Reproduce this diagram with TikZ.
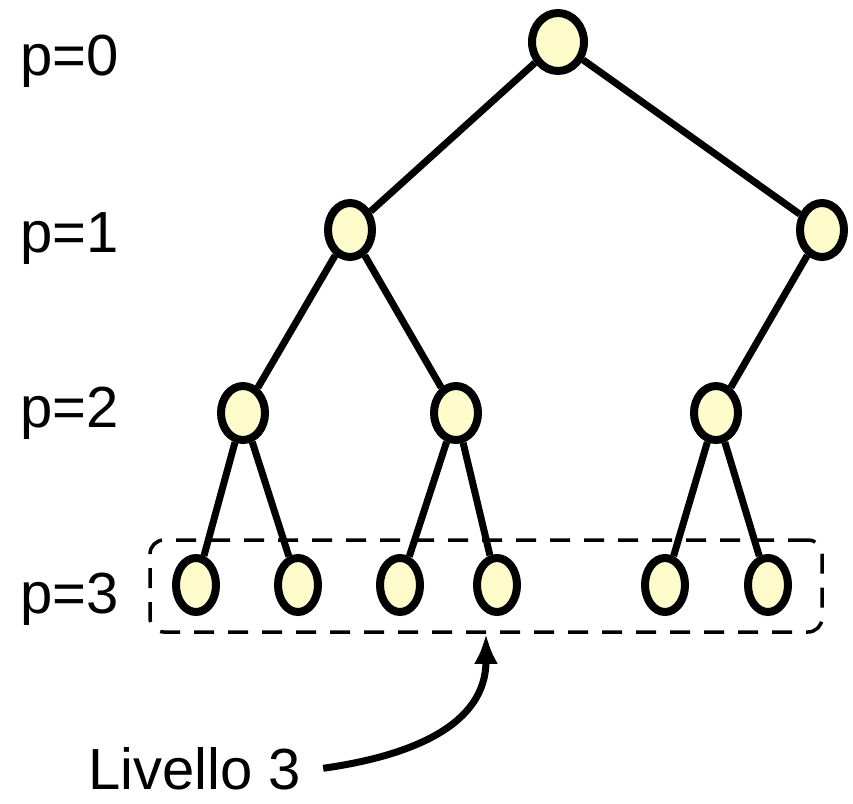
\documentclass[tikz,border=0pt]{standalone}
\usepackage{fontspec}
\setmainfont{Liberation Sans}
\usetikzlibrary{arrows,arrows.meta,shapes.geometric}

\begin{document}
\begin{tikzpicture}[x=1pt,y=-1pt,>=latex,
  nodo/.style={draw,ellipse,line width=8pt,fill=yellow!20,
               minimum width=44pt,minimum height=54pt,inner sep=0pt},
  foglia/.style={nodo,minimum width=40pt},
  ramo/.style={line width=7pt},
  etich/.style={anchor=base west,inner sep=0pt,
                font=\fontsize{58}{66}\selectfont}]
\useasboundingbox (0,0) rectangle (853,803);

% i nodi dell'albero
\node[nodo,minimum width=52pt,minimum height=58pt] (r) at (558,42) {};
\node[nodo] (a) at (350,230) {};
\node[nodo] (b) at (822,230) {};
\node[nodo] (aa) at (243,413) {};
\node[nodo] (ab) at (456,413) {};
\node[nodo] (ba) at (716,413) {};
\node[foglia] (aaa) at (196,585) {};
\node[foglia] (aab) at (298,585) {};
\node[foglia] (aba) at (400,585) {};
\node[foglia] (abb) at (497,585) {};
\node[foglia] (baa) at (665,585) {};
\node[foglia] (bab) at (768,585) {};

% i rami
\foreach \p/\f in {r/a,r/b,a/aa,a/ab,b/ba,aa/aaa,aa/aab,ab/aba,ab/abb,ba/baa,ba/bab}
  \draw[ramo] (\p) -- (\f);

% le profondita'
\foreach \k/\y in {0/75,1/252,2/427,3/613}
  \node[etich] (p\k) at (20,\y) {p=\k};

% il livello
\node[draw,line width=3.5pt,dash pattern=on 20pt off 14pt,rounded corners=14pt,
      minimum width=672pt,minimum height=92pt] (liv) at (486,586) {};
\node[etich] (lab) at (88,789) {Livello 3};
\draw[line width=7pt,-{Latex[length=30pt,width=24pt]},out=8,in=-90,looseness=1.1]%
  ([xshift=22pt]lab.east) to (liv.south);

\end{tikzpicture}
\end{document}
